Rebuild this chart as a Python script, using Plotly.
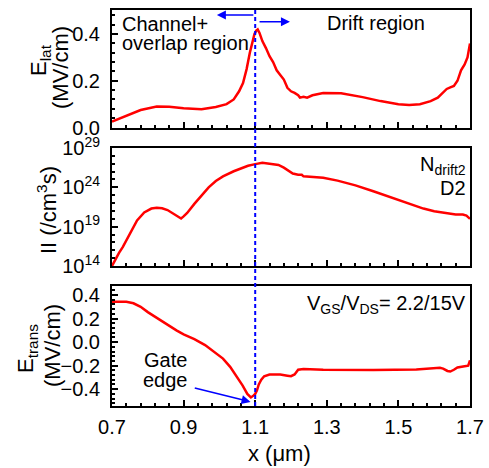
import plotly.graph_objects as go

# ---------------- data ----------------
# Lateral electric field along the channel / drift region
x_lat = [0.70, 0.74, 0.78, 0.825, 0.86, 0.90, 0.95, 0.99, 1.02, 1.04, 1.055, 1.066,
         1.076, 1.085, 1.092, 1.098, 1.103, 1.107, 1.112, 1.12, 1.13, 1.14, 1.15,
         1.16, 1.17, 1.18, 1.19, 1.20, 1.21, 1.22, 1.225, 1.235, 1.245, 1.26, 1.29,
         1.34, 1.40, 1.45, 1.50, 1.53, 1.56, 1.59, 1.61, 1.625, 1.635, 1.645, 1.655,
         1.665, 1.675, 1.685, 1.693, 1.70]
e_lat = [0.025, 0.050, 0.075, 0.090, 0.089, 0.082, 0.078, 0.088, 0.100, 0.120, 0.155,
         0.190, 0.250, 0.320, 0.370, 0.400, 0.415, 0.420, 0.405, 0.370, 0.340, 0.305,
         0.280, 0.245, 0.225, 0.205, 0.170, 0.155, 0.148, 0.138, 0.128, 0.132, 0.128,
         0.138, 0.148, 0.147, 0.130, 0.113, 0.100, 0.096, 0.100, 0.113, 0.128, 0.150,
         0.165, 0.172, 0.178, 0.200, 0.245, 0.270, 0.300, 0.360]

# Impact ionization generation rate
x_ii = [0.70, 0.71, 0.72, 0.73, 0.75, 0.77, 0.79, 0.81, 0.825, 0.84, 0.855, 0.87,
        0.885, 0.893, 0.90, 0.91, 0.93, 0.95, 0.97, 0.99, 1.01, 1.04, 1.06, 1.08,
        1.10, 1.12, 1.14, 1.165, 1.18, 1.195, 1.205, 1.22, 1.23, 1.235, 1.26, 1.29,
        1.33, 1.38, 1.43, 1.48, 1.53, 1.57, 1.60, 1.63, 1.66, 1.68, 1.69, 1.70]
ii = [1.0e14, 7.9e14, 5.0e15, 2.5e16, 1.3e18, 6.3e19, 6.3e20, 2.0e21, 2.5e21, 2.2e21,
      1.3e21, 5.0e20, 1.6e20, 1.1e20, 2.0e20, 5.6e20, 7.9e21, 1.0e23, 1.0e24, 6.3e24,
      2.5e25, 1.1e26, 2.5e26, 5.6e26, 8.9e26, 1.3e27, 1.0e27, 7.1e26, 3.2e26, 1.0e26,
      5.6e25, 4.0e25, 4.0e25, 2.5e25, 2.2e25, 1.6e25, 7.1e24, 1.8e24, 3.2e23, 5.0e22,
      7.9e21, 2.0e21, 8.9e20, 5.0e20, 3.5e20, 3.5e20, 2.5e20, 1.0e20]

# Transverse electric field
x_tr = [0.70, 0.72, 0.74, 0.76, 0.78, 0.80, 0.83, 0.86, 0.88, 0.90, 0.93, 0.96, 0.99,
        1.01, 1.03, 1.05, 1.065, 1.078, 1.088, 1.095, 1.10, 1.105, 1.11, 1.117, 1.125,
        1.14, 1.17, 1.19, 1.20, 1.21, 1.22, 1.235, 1.29, 1.43, 1.55, 1.616, 1.625,
        1.637, 1.645, 1.655, 1.665, 1.685, 1.695, 1.70]
e_tr = [0.343, 0.345, 0.343, 0.330, 0.300, 0.255, 0.195, 0.135, 0.100, 0.066, 0.025,
        -0.025, -0.090, -0.140, -0.210, -0.300, -0.370, -0.440, -0.470, -0.455, -0.440,
        -0.410, -0.360, -0.320, -0.290, -0.275, -0.275, -0.285, -0.290, -0.275, -0.235,
        -0.228, -0.234, -0.237, -0.232, -0.218, -0.225, -0.245, -0.250, -0.235, -0.215,
        -0.205, -0.200, -0.155]

x_ticks = [0.7, 0.9, 1.1, 1.3, 1.5, 1.7]
x_ticktext = ["0.7", "0.9", "1.1", "1.3", "1.5", "1.7"]
ii_ticks = [1e14, 1e19, 1e24, 1e29]
ii_ticktext = ["10<sup>14</sup>", "10<sup>19</sup>", "10<sup>24</sup>", "10<sup>29</sup>"]
ii_minor = [10.0 ** k for k in range(14, 30)]
gate_x = 1.1

# ---------------- layout geometry ----------------
W, H = 489, 468
ML, MR, MT, MB = 112, 19, 10, 62
PW, PH = W - ML - MR, H - MT - MB
FONT = "Liberation Sans, Arial, sans-serif"
RED = "#ff0000"
BLUE = "#0000ff"


def px_x(p):
    return (p - ML) / PW


def px_y(p):
    return (H - MB - p) / PH


fig = go.Figure()
line = dict(color=RED, width=2.5)
fig.add_trace(go.Scatter(x=x_lat, y=e_lat, mode="lines", line=line, xaxis="x", yaxis="y"))
fig.add_trace(go.Scatter(x=x_ii, y=ii, mode="lines", line=line, xaxis="x2", yaxis="y2"))
fig.add_trace(go.Scatter(x=x_tr, y=e_tr, mode="lines", line=line, xaxis="x3", yaxis="y3"))

common = dict(showline=True, linecolor="black", linewidth=2, mirror=True,
              ticks="inside", ticklen=6, tickwidth=1.5, tickcolor="black",
              showgrid=False, zeroline=False, automargin=False,
              tickfont=dict(family=FONT, size=20, color="black"))

xcommon = dict(common, range=[0.7, 1.7], tickvals=x_ticks, ticktext=x_ticktext,
               minor=dict(dtick=0.04, tick0=0.7, ticks="inside", ticklen=3,
                          tickwidth=1.5, tickcolor="black"))

d1 = [px_y(127.5), 1.0]
d2 = [px_y(266), px_y(148)]
d3 = [0.0, px_y(286)]

fig.update_layout(
    width=W, height=H, margin=dict(l=ML, r=MR, t=MT, b=MB, autoexpand=False),
    paper_bgcolor="white", plot_bgcolor="white", showlegend=False,
    font=dict(family=FONT, color="black"),
    xaxis=dict(xcommon, anchor="y", showticklabels=False),
    xaxis2=dict(xcommon, anchor="y2", matches="x", showticklabels=False),
    xaxis3=dict(xcommon, anchor="y3", matches="x", ticklabelstandoff=2),
    yaxis=dict(common, domain=d1, anchor="x", range=[0, 0.503],
               tickvals=[0.0, 0.2, 0.4], tickformat=".1f", ticklabelstandoff=6,
               minor=dict(dtick=0.04, tick0=0, ticks="inside", ticklen=3,
                          tickwidth=1.5, tickcolor="black")),
    yaxis2=dict(common, domain=d2, anchor="x2", type="log", range=[14, 29],
                tickvals=ii_ticks, ticktext=ii_ticktext, ticklabelstandoff=6,
                minor=dict(tickvals=ii_minor, ticks="inside", ticklen=3,
                           tickwidth=1.5, tickcolor="black")),
    yaxis3=dict(common, domain=d3, anchor="x3", range=[-0.543, 0.477],
                tickvals=[-0.4, -0.2, 0.0, 0.2, 0.4], tickformat=".1f",
                ticklabelstandoff=6,
                minor=dict(dtick=0.04, tick0=0, ticks="inside", ticklen=3,
                           tickwidth=1.5, tickcolor="black")),
)

# gate edge marker
fig.add_shape(type="line", xref="x3", yref="paper", x0=gate_x, x1=gate_x, y0=0, y1=1,
              line=dict(color=BLUE, width=2, dash="4px,3px"))

ann = []


def text(s, xp, yp, size=20, xanchor="center", yanchor="middle", angle=0):
    ann.append(dict(text=s, xref="paper", yref="paper", x=px_x(xp), y=px_y(yp),
                    xanchor=xanchor, yanchor=yanchor, showarrow=False, textangle=angle,
                    font=dict(family=FONT, size=size, color="black")))


# axis titles
text("E<sub>lat</sub>", 40, 60, size=22, angle=-90)
text("(MV/cm)", 60, 67, size=22, angle=-90)
text("II (/cm<sup>3</sup>s)", 47, 210, size=22, angle=-90)
text("E<sub>trans</sub>", 27, 349, size=22, angle=-90)
text("(MV/cm)", 52, 346, size=22, angle=-90)
text("x (\u03bcm)", 279, 453, size=22)

# in-panel labels
text("Channel+", 120, 24, xanchor="left")
text("overlap region", 120, 43, xanchor="left")
text("Drift region", 325, 23, xanchor="left")
text("N<sub>drift2</sub>", 468, 165, xanchor="right")
text("D2", 468, 188, xanchor="right")
text("V<sub>GS</sub>/V<sub>DS</sub>= 2.2/15V", 468, 304, xanchor="right")
text("Gate", 165, 360)
text("edge", 165, 380)

# region arrows and gate-edge arrow
arrow = dict(showarrow=True, arrowhead=2, arrowsize=1.2, arrowwidth=1.5,
             arrowcolor=BLUE, text="", standoff=0, startstandoff=0)
ann.append(dict(arrow, xref="x", yref="y", axref="x", ayref="y",
                x=0.993, y=0.482, ax=1.099, ay=0.482))
ann.append(dict(arrow, xref="x", yref="y", axref="x", ayref="y",
                x=1.197, y=0.453, ax=1.108, ay=0.453))
ann.append(dict(arrow, xref="x3", yref="y3", axref="x3", ayref="y3",
                x=1.087, y=-0.508, ax=0.927, ay=-0.386))

fig.update_layout(annotations=ann)
fig.write_html("out.html")
